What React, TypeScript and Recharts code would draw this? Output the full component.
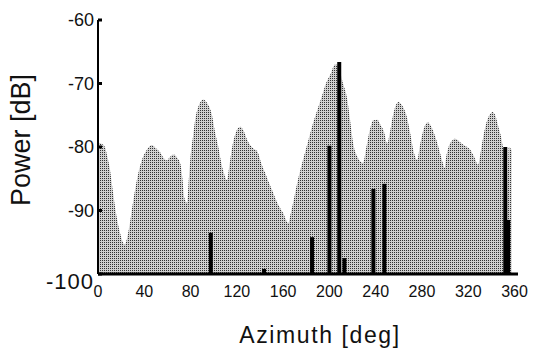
import { Area, ComposedChart, ErrorBar, Label, Scatter, XAxis, YAxis } from 'recharts';

// azimuth spectrum (dotted area)
const areaAz = [
  0, 3, 6, 8, 10, 12.5, 15, 19, 23, 27, 30, 32, 35, 38, 42, 46.5, 50, 53.5, 57, 59.5, 62, 65.5, 68, 71, 73, 74.5, 77,
  78.5, 80, 82, 84, 87, 91, 94, 98.5, 101, 104, 106, 108, 111.5, 113.5, 116, 119, 123, 126, 129, 132, 134, 138, 141,
  144.5, 147.5, 150.5, 155, 160, 164.5, 166.5, 169, 173, 176.5, 181, 185, 189, 193, 197, 201, 205, 208, 211, 215.5,
  218, 220.5, 224, 229, 232, 235, 238, 241.5, 244, 247, 250, 252.5, 255, 259.5, 263, 267, 270, 272.5, 276, 278.5, 281,
  285, 288, 291.5, 295, 298, 299.5, 301, 303, 306, 309, 312, 316, 319, 322, 325, 328.5, 331, 333, 336, 339, 341, 343,
  346, 348.5, 350, 352, 353.5, 355, 357.5,
];
const areaDb = [
  -79.3, -79.5, -80, -81.5, -83.2, -86.5, -89.8, -93.5, -95.4, -92.6, -89, -86.8, -84, -82, -80.5, -79.7, -80.2, -80.8,
  -81.8, -82.1, -81.6, -81.2, -81.6, -82.5, -85, -87.9, -88.8, -85, -81.5, -78.5, -75.7, -73.5, -72.5, -73, -75,
  -77.5, -80, -82, -83.6, -85.2, -83, -80, -77.8, -76.8, -77.5, -78.9, -79.8, -80.2, -80.8, -82.5, -84.1, -85.5,
  -86.8, -88.8, -90.4, -92, -90.5, -88.5, -85, -82.5, -79.5, -76.8, -74.5, -72.3, -70, -68.5, -67, -67.2, -69.5,
  -72.6, -76, -79.4, -81.5, -82.5, -80, -77.3, -75.8, -75.7, -76.5, -77.5, -79.4, -77.5, -75, -72.9, -73.5, -75.3,
  -78, -80.5, -82, -79.5, -77.5, -76.1, -76.8, -78.4, -80.5, -82.5, -83.3, -81.5, -80, -79, -78.7, -79.1, -79.7, -80,
  -80.5, -81.5, -82.8, -80.5, -78.4, -76, -74.8, -74.5, -74.9, -76.8, -78.5, -80, -81, -88, -80, -80.5,
];

// discrete paths (black stems)
const stemAz = [97.5, 143.5, 185, 200, 208.5, 213, 238, 247.5, 352, 354.5];
const stemDb = [-93.5, -99.2, -94.2, -79.8, -66.6, -97.5, -86.6, -85.8, -80, -91.5];

const xTicks = [0, 40, 80, 120, 160, 200, 240, 280, 320, 360];
const yTicks = [-100, -90, -80, -70, -60];
const FLOOR = -100;

const spectrum = areaAz.map((az, i) => ({ az, power: areaDb[i] }));
const stems = stemAz.map((az, i) => ({ az, db: stemDb[i], err: [stemDb[i] - FLOOR, 0] }));

const font = '"Liberation Sans", Arial, Helvetica, sans-serif';

function PowerTick({ x, y, payload }: any) {
  const big = payload.value === -100;
  return (
    <g>
      <rect x={x} y={y - 1.5} width={4} height={3} fill="#000" />
      <text
        x={x - 4}
        y={big ? y + 7 : y}
        textAnchor="end"
        dominantBaseline="central"
        fontSize={big ? 22 : 18}
        letterSpacing={big ? 1 : 0}
        fill="#111"
        fontFamily={font}
      >
        {payload.value}
      </text>
    </g>
  );
}

export default function App() {
  return (
    <div style={{ position: 'absolute', left: 0, top: 0, background: '#fff' }}>
      <ComposedChart
        width={535}
        height={348}
        data={spectrum}
        margin={{ top: 20, right: 17, left: 0, bottom: 44 }}
      >
        <defs>
          <pattern id="stipple" width="2" height="2" patternUnits="userSpaceOnUse">
            <rect width="2" height="2" fill="#d0d0d0" />
            <rect width="1" height="1" fill="#333" />
          </pattern>
        </defs>
        <XAxis
          type="number"
          dataKey="az"
          domain={[0, 363]}
          ticks={xTicks}
          interval={0}
          tickLine={false}
          tickSize={0}
          tickMargin={12}
          height={30}
          axisLine={{ stroke: '#000', strokeWidth: 3 }}
          tick={{ fontSize: 16, fill: '#111', fontFamily: font }}
        >
          <Label
            content={() => (
              <text x={320} y={343} textAnchor="middle" fontSize={23} letterSpacing={1.6} fill="#111" fontFamily={font}>
                Azimuth [deg]
              </text>
            )}
          />
        </XAxis>
        <YAxis
          type="number"
          domain={[-100, -60]}
          ticks={yTicks}
          interval={0}
          width={98}
          tickLine={false}
          tickSize={0}
          tickMargin={0}
          axisLine={{ stroke: '#000', strokeWidth: 2 }}
          tick={<PowerTick />}
        >
          <Label
            content={() => (
              <text
                x={30}
                y={140}
                transform="rotate(-90 30 140)"
                textAnchor="middle"
                fontSize={27}
                fill="#111"
                fontFamily={font}
              >
                Power [dB]
              </text>
            )}
          />
        </YAxis>
        <Area
          type="monotone"
          dataKey="power"
          baseValue={FLOOR}
          stroke="none"
          fill="url(#stipple)"
          fillOpacity={1}
          isAnimationActive={false}
        />
        <Scatter data={stems} dataKey="db" shape={() => <g />} isAnimationActive={false}>
          <ErrorBar dataKey="err" direction="y" width={0} strokeWidth={4} stroke="#000" />
        </Scatter>
      </ComposedChart>
    </div>
  );
}
